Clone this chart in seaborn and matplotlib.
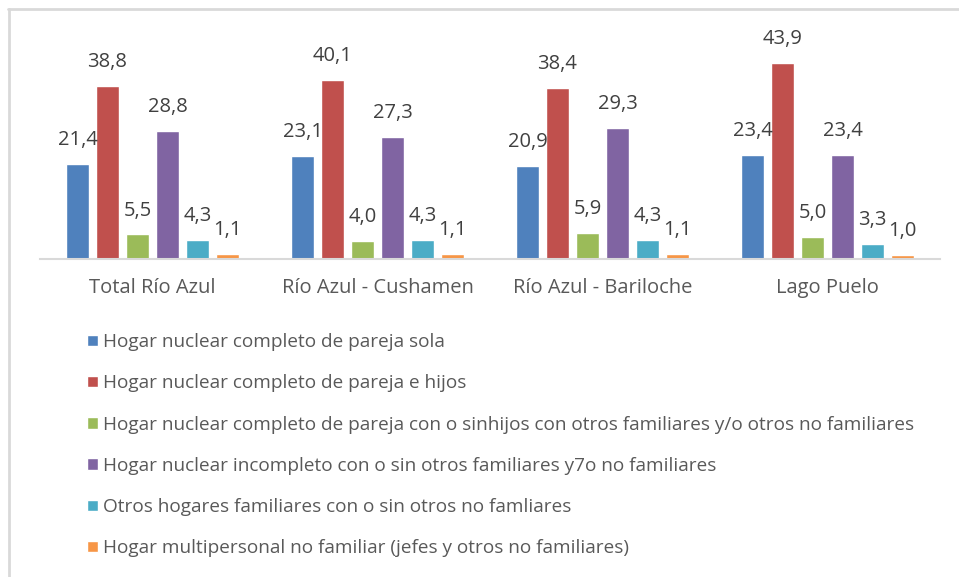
import pandas as pd
import seaborn as sns
import matplotlib.pyplot as plt
from matplotlib.lines import Line2D

# data
regions = ['Total Río Azul', 'Río Azul - Cushamen', 'Río Azul - Bariloche', 'Lago Puelo']
hogar_types = [
    'Hogar nuclear completo de pareja sola',
    'Hogar nuclear completo de pareja e hijos',
    'Hogar nuclear completo de pareja con o sinhijos con otros familiares y/o otros no familiares',
    'Hogar nuclear incompleto con o sin otros familiares y7o no familiares',
    'Otros hogares familiares con o sin otros no famliares',
    'Hogar multipersonal no familiar (jefes y otros no familiares)',
]
pareja_sola = [21.4, 23.1, 20.9, 23.4]
pareja_hijos = [38.8, 40.1, 38.4, 43.9]
pareja_otros = [5.5, 4.0, 5.9, 5.0]
incompleto = [28.8, 27.3, 29.3, 23.4]
otros_familiares = [4.3, 4.3, 4.3, 3.3]
multipersonal = [1.1, 1.1, 1.1, 1.0]
colors = ['#4F81BD', '#C0504D', '#9BBB59', '#8064A2', '#4BACC6', '#F79646']

series = [pareja_sola, pareja_hijos, pareja_otros, incompleto, otros_familiares, multipersonal]
rows = []
for name, vals in zip(hogar_types, series):
    for reg, v in zip(regions, vals):
        rows.append({'region': reg, 'tipo': name, 'pct': v})
df = pd.DataFrame(rows)

sns.set_style('white')
plt.rcParams['font.family'] = ['Open Sans', 'DejaVu Sans']
text_gray = '#595959'

fig = plt.figure(figsize=(9.59, 5.77), dpi=100)
ax = fig.add_axes([40 / 959, 1 - 259 / 577, 900 / 959, 223 / 577])

sns.barplot(data=df, x='region', y='pct', hue='tipo', hue_order=hogar_types,
            palette=colors, width=0.8, gap=0.25, saturation=1, ax=ax)

for cont in ax.containers:
    ax.bar_label(cont, labels=[f'{b.get_height():.1f}'.replace('.', ',') for b in cont],
                 padding=10, fontsize=14.5, color='#404040')

ax.set_ylim(0, 50)
ax.set_xlim(-0.5, 3.5)
ax.set_xlabel('')
ax.set_ylabel('')
ax.set_yticks([])
ax.tick_params(axis='x', length=0, pad=14, labelsize=14.5, labelcolor=text_gray)
for side in ['top', 'right', 'left']:
    ax.spines[side].set_visible(False)
ax.spines['bottom'].set_color('#d9d9d9')
ax.spines['bottom'].set_linewidth(1.5)

handles, labels = ax.get_legend_handles_labels()
ax.get_legend().remove()
fig.legend(handles, labels, loc='upper left', bbox_to_anchor=(70 / 959, 1 - 316 / 577),
           frameon=False, ncol=1, fontsize=13.7, labelcolor=text_gray,
           handlelength=0.55, handleheight=0.55, handletextpad=0.3, labelspacing=1.22)

# chart frame (top and left edges visible)
fig.add_artist(Line2D([8 / 959, 1], [1 - 9 / 577, 1 - 9 / 577], color='#d9d9d9', lw=2))
fig.add_artist(Line2D([9 / 959, 9 / 959], [0, 1 - 9 / 577], color='#d9d9d9', lw=2))

fig.savefig('out.png', dpi=100)
